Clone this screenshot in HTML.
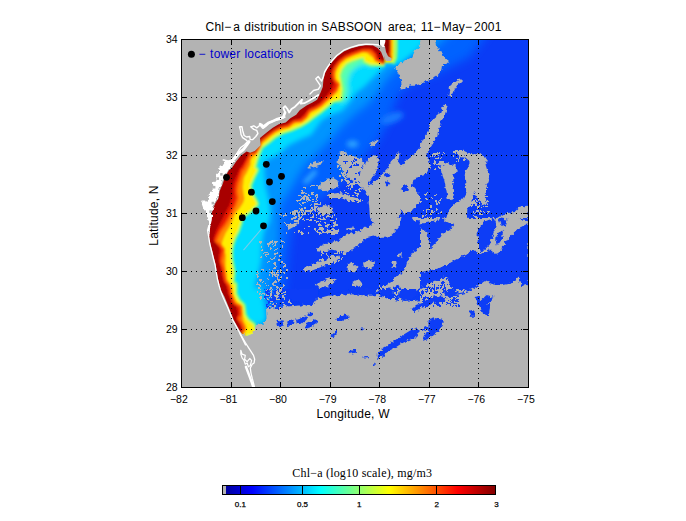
<!DOCTYPE html>
<html><head><meta charset="utf-8"><title>Chl-a distribution</title>
<style>html,body{margin:0;padding:0;background:#fff}svg{display:block}text{font-family:"Liberation Sans",sans-serif}</style>
</head><body>
<svg width="686" height="521" viewBox="0 0 686 521">
<defs>
<clipPath id="plot"><rect x="181" y="39" width="348" height="349"/></clipPath>
<filter id="b2" x="-10%" y="-10%" width="120%" height="120%"><feGaussianBlur stdDeviation="1.1"/></filter>
<filter id="b5" x="-10%" y="-10%" width="120%" height="120%"><feGaussianBlur stdDeviation="5"/></filter>
<filter id="b4" x="-10%" y="-10%" width="120%" height="120%"><feGaussianBlur stdDeviation="4"/></filter>
<filter id="b3" x="-10%" y="-10%" width="120%" height="120%"><feGaussianBlur stdDeviation="2.5"/></filter>
<filter id="rag" x="0" y="0" width="100%" height="100%" filterUnits="userSpaceOnUse" primitiveUnits="userSpaceOnUse"><feTurbulence type="fractalNoise" baseFrequency="0.3" numOctaves="2" seed="4" result="n"/><feDisplacementMap in="SourceGraphic" in2="n" scale="5" xChannelSelector="R" yChannelSelector="G"/></filter>
<filter id="rag2" x="0" y="0" width="100%" height="100%" filterUnits="userSpaceOnUse" primitiveUnits="userSpaceOnUse"><feTurbulence type="fractalNoise" baseFrequency="0.4" numOctaves="2" seed="9" result="n"/><feDisplacementMap in="SourceGraphic" in2="n" scale="3.5" xChannelSelector="R" yChannelSelector="G"/></filter>
<linearGradient id="jet" x1="0" x2="1" y1="0" y2="0">
<stop offset="0" stop-color="#00008f"/>
<stop offset="0.11" stop-color="#0000ff"/>
<stop offset="0.36" stop-color="#00ffff"/>
<stop offset="0.61" stop-color="#ffff00"/>
<stop offset="0.86" stop-color="#ff0000"/>
<stop offset="1" stop-color="#800000"/>
</linearGradient>
</defs>
<rect width="686" height="521" fill="#fff"/>
<g clip-path="url(#plot)">
<rect x="181" y="39" width="348" height="349" fill="#0a3cf6"/>
<g filter="url(#b5)">
<path d="M250.0 380.0 L276.0 324.0 L281.0 305.0 L285.0 285.0 L287.0 265.0 L289.0 245.0 L292.0 228.0 L300.0 215.0 L315.0 203.0 L332.0 190.0 L348.0 174.0 L362.0 160.0 L374.0 146.0 L384.0 130.0 L391.0 114.0 L396.0 100.0 L402.0 90.0 L415.0 82.0 L436.0 74.0 L470.0 57.0 L490.0 30.0 L150.0 20.0 L150.0 380.0Z" fill="#0062ff"/>
</g>
<g filter="url(#b4)">
<path d="M250.0 380.0 L268.0 322.0 L270.0 300.0 L272.0 280.0 L276.0 260.0 L279.0 240.0 L279.0 225.0 L280.0 205.0 L290.0 190.0 L304.0 166.0 L319.0 151.0 L331.0 139.0 L343.0 125.0 L356.0 113.0 L368.0 104.0 L378.0 92.0 L387.0 79.0 L395.0 71.0 L408.0 60.0 L432.0 50.0 L455.0 30.0 L150.0 20.0 L150.0 380.0Z" fill="#0094ff"/>
</g>
<g filter="url(#b3)">
<path d="M250.0 380.0 L253.6 325.8 L256.0 324.6 L263.0 323.5 L266.5 318.8 L265.3 308.3 L263.0 296.7 L260.6 285.0 L255.3 290.0 L255.3 283.6 L257.6 276.6 L260.0 267.3 L261.5 259.0 L261.5 251.0 L262.0 244.0 L263.0 237.0 L264.5 230.0 L269.3 222.0 L270.6 211.8 L269.3 201.6 L265.5 186.3 L264.2 171.0 L266.0 160.0 L277.5 155.0 L289.2 145.1 L300.8 139.3 L311.3 134.7 L316.0 127.7 L321.6 120.3 L329.6 115.5 L342.0 110.7 L350.0 102.0 L356.0 93.0 L364.0 87.0 L371.0 80.0 L378.0 73.0 L384.0 68.0 L385.5 62.0 L385.5 20.0 L150.0 20.0 L150.0 380.0Z" fill="#00dcff"/>
<path d="M305.5 182 L315 172" stroke="#38b4ff" stroke-width="4" stroke-linecap="round" fill="none"/>
<ellipse cx="352.5" cy="144" rx="6" ry="3.5" fill="#2ea4ff"/>
<ellipse cx="392" cy="118" rx="12" ry="5" fill="#1478ff" transform="rotate(-20 392 118)"/>
<path d="M338.0 101.0 L345.0 101.0 L348.0 92.0 L347.5 82.0 L350.0 73.0 L356.0 67.0 L364.0 63.5 L372.0 66.0 L376.0 64.0 L366.0 59.0 L352.0 58.0 L345.0 61.5 L340.0 67.5 L337.5 75.3 L338.5 82.3 L339.5 90.0Z" fill="#58ffb0"/>
<path d="M385.0 30.0 L428.0 30.0 L422.0 45.0 L415.0 52.0 L405.0 60.0 L398.0 65.0 L392.0 64.5 L385.0 64.0Z" fill="#00dcff"/>
</g>
<g filter="url(#b2)">
<path d="M246.6 333.6 L250.1 333.4 L253.6 331.6 L252.5 325.8 L246.6 321.2 L243.1 315.3 L242.0 306.0 L237.3 301.3 L233.8 294.3 L233.8 285.0 L230.8 286.0 L231.4 279.0 L232.0 272.0 L230.8 265.0 L229.7 258.0 L229.7 251.0 L230.8 244.0 L233.1 237.0 L236.6 230.0 L239.0 222.5 L240.1 216.6 L244.8 213.1 L250.6 208.5 L255.3 203.8 L253.0 199.2 L249.5 193.3 L248.3 185.2 L251.8 177.0 L255.3 170.0 L252.5 168.5 L254.8 160.3 L257.1 153.3 L258.0 151.0 L260.0 146.3 L267.0 141.1 L274.0 135.2 L281.0 131.2 L290.3 128.2 L299.7 124.2 L306.6 120.1 L312.5 115.4 L318.3 111.3 L325.3 105.5 L332.3 99.7 L339.2 98.0 L340.3 89.3 L339.2 82.3 L338.0 75.3 L340.3 68.3 L345.0 62.5 L352.0 59.0 L359.0 56.7 L364.8 55.5 L366.0 60.2 L370.6 62.5 L377.6 63.1 L384.6 63.1" fill="none" stroke="#8cff78" stroke-width="7.5" stroke-linejoin="round"/>
<path d="M246.6 333.6 L250.1 333.4 L253.6 331.6 L252.5 325.8 L246.6 321.2 L243.1 315.3 L242.0 306.0 L237.3 301.3 L233.8 294.3 L233.8 285.0 L230.8 286.0 L231.4 279.0 L232.0 272.0 L230.8 265.0 L229.7 258.0 L229.7 251.0 L230.8 244.0 L233.1 237.0 L236.6 230.0 L239.0 222.5 L240.1 216.6 L244.8 213.1 L250.6 208.5 L255.3 203.8 L253.0 199.2 L249.5 193.3 L248.3 185.2 L251.8 177.0 L255.3 170.0 L252.5 168.5 L254.8 160.3 L257.1 153.3 L258.0 151.0 L260.0 146.3 L267.0 141.1 L274.0 135.2 L281.0 131.2 L290.3 128.2 L299.7 124.2 L306.6 120.1 L312.5 115.4 L318.3 111.3 L325.3 105.5 L332.3 99.7 L339.2 98.0 L340.3 89.3 L339.2 82.3 L338.0 75.3 L340.3 68.3 L345.0 62.5 L352.0 59.0 L359.0 56.7 L364.8 55.5 L366.0 60.2 L370.6 62.5 L377.6 63.1 L384.6 63.1" fill="none" stroke="#ffee00" stroke-width="3" stroke-linejoin="round"/>
<path d="M250.0 380.0 L246.6 333.6 L250.1 333.4 L253.6 331.6 L252.5 325.8 L246.6 321.2 L243.1 315.3 L242.0 306.0 L237.3 301.3 L233.8 294.3 L233.8 285.0 L230.8 286.0 L231.4 279.0 L232.0 272.0 L230.8 265.0 L229.7 258.0 L229.7 251.0 L230.8 244.0 L233.1 237.0 L236.6 230.0 L239.0 222.5 L240.1 216.6 L244.8 213.1 L250.6 208.5 L255.3 203.8 L253.0 199.2 L249.5 193.3 L248.3 185.2 L251.8 177.0 L255.3 170.0 L252.5 168.5 L254.8 160.3 L257.1 153.3 L258.0 151.0 L260.0 146.3 L267.0 141.1 L274.0 135.2 L281.0 131.2 L290.3 128.2 L299.7 124.2 L306.6 120.1 L312.5 115.4 L318.3 111.3 L325.3 105.5 L332.3 99.7 L339.2 98.0 L340.3 89.3 L339.2 82.3 L338.0 75.3 L340.3 68.3 L345.0 62.5 L352.0 59.0 L359.0 56.7 L364.8 55.5 L366.0 60.2 L370.6 62.5 L377.6 63.1 L384.6 63.1 L385.5 62.0 L385.5 20.0 L150.0 20.0 L150.0 380.0Z" fill="#ffee00"/>
<path d="M250.0 380.0 L244.1 332.5 L245.8 331.2 L246.3 329.6 L246.8 327.8 L245.9 325.5 L244.9 323.3 L243.7 321.3 L243.5 319.5 L243.4 317.6 L242.6 315.4 L242.0 313.1 L241.1 310.8 L239.7 309.0 L238.4 307.2 L237.4 305.2 L236.7 302.8 L235.4 300.7 L234.2 298.6 L233.1 296.4 L232.5 294.0 L231.6 291.7 L230.9 289.4 L230.0 287.1 L229.2 284.9 L228.8 282.5 L227.9 280.9 L226.9 279.4 L226.8 277.0 L226.7 274.5 L226.4 272.0 L226.1 269.6 L225.7 267.2 L225.6 264.8 L225.7 262.3 L225.8 259.9 L225.9 257.4 L226.0 255.0 L225.2 252.7 L224.4 250.5 L223.4 248.4 L222.3 246.5 L221.6 244.5 L222.3 242.1 L223.0 239.7 L223.9 237.4 L224.9 235.1 L225.9 232.8 L227.3 230.7 L228.6 228.6 L229.9 226.5 L230.9 224.3 L232.0 222.0 L233.0 219.7 L233.8 217.4 L234.6 215.1 L235.9 213.0 L237.4 211.1 L238.9 209.2 L240.3 207.2 L241.6 205.2 L242.9 203.2 L243.8 201.1 L244.4 198.9 L244.2 196.6 L243.7 194.3 L243.4 191.9 L243.1 189.6 L242.9 187.3 L243.1 184.9 L243.4 182.5 L243.6 180.1 L244.2 177.7 L245.1 175.4 L246.5 173.5 L247.6 171.2 L248.7 169.0 L249.8 166.7 L250.9 164.5 L250.7 162.5 L250.9 160.5 L251.8 158.2 L253.5 157.1 L255.0 155.7 L256.1 153.4 L257.2 151.2 L258.1 148.9 L258.9 146.5 L260.0 144.4 L261.5 142.5 L263.5 140.9 L265.4 139.4 L267.4 137.9 L269.4 136.4 L271.4 134.8 L273.4 133.3 L275.4 132.0 L277.6 130.8 L279.9 129.7 L282.2 128.8 L284.5 128.0 L286.9 127.2 L289.0 126.0 L291.2 124.8 L293.4 123.7 L295.8 123.2 L298.2 122.6 L300.4 121.7 L302.4 120.2 L304.4 118.8 L306.1 117.0 L307.8 115.2 L309.5 113.5 L311.7 112.3 L313.8 111.1 L315.9 109.8 L318.0 108.4 L320.1 107.0 L321.9 105.3 L323.8 103.7 L325.7 102.0 L327.6 100.4 L329.4 98.7 L331.2 97.0 L333.0 95.3 L335.1 94.1 L336.8 92.6 L338.1 90.8 L337.8 88.5 L337.1 86.4 L336.4 84.2 L336.1 81.8 L335.7 79.3 L335.5 76.8 L335.8 74.5 L336.2 72.1 L336.8 69.9 L338.0 67.7 L339.2 65.6 L340.7 63.6 L342.4 61.9 L344.2 60.2 L346.2 58.8 L348.5 57.7 L350.7 56.7 L353.0 55.7 L355.4 54.9 L357.7 54.0 L360.1 53.2 L362.5 52.6 L365.0 52.4 L366.9 53.0 L368.5 54.2 L370.3 55.8 L372.3 57.3 L374.1 58.7 L375.5 60.1 L377.4 61.2 L379.8 61.8 L382.2 62.3 L384.6 62.8 L385.5 62.0 L385.5 20.0 L150.0 20.0 L150.0 380.0Z" fill="#ff9000"/>
<path d="M242.0 331.6 L243.1 329.3 L240.8 323.5 L237.3 318.8 L240.2 314.2 L239.7 307.2 L233.8 303.7 L230.3 294.3 L229.7 290.0 L228.5 286.0 L225.0 281.3 L223.8 275.5 L222.7 268.5 L220.3 261.5 L221.5 255.7 L222.7 249.8 L219.2 245.2 L214.5 241.7 L216.8 235.8 L219.7 230.0 L223.8 224.8 L227.3 219.0 L230.8 212.0 L234.3 205.0 L236.6 198.0 L235.5 191.0 L236.6 184.0 L239.0 177.0 L241.3 170.0 L243.1 168.5 L246.6 161.5 L249.0 155.7 L250.1 152.7 L254.8 152.5 L258.5 146.5 L260.0 141.6 L267.0 135.8 L274.0 130.6 L281.0 127.1 L288.0 125.3 L293.8 120.7 L300.8 120.1 L305.5 116.0 L309.0 110.2 L314.8 107.8 L320.6 104.3 L325.3 99.7 L327.5 98.0 L335.7 89.3 L337.4 84.6 L333.3 80.0 L332.2 73.0 L334.5 67.2 L339.2 61.3 L345.0 56.7 L353.1 53.2 L356.6 52.0 L362.5 49.7 L370.6 49.7 L375.3 54.3 L376.5 59.0 L381.1 61.3 L384.6 62.5" fill="none" stroke="#ff5a00" stroke-width="5" stroke-linejoin="round"/>
<path d="M250.0 380.0 L242.0 331.6 L243.1 329.3 L240.8 323.5 L237.3 318.8 L240.2 314.2 L239.7 307.2 L233.8 303.7 L230.3 294.3 L229.7 290.0 L228.5 286.0 L225.0 281.3 L223.8 275.5 L222.7 268.5 L220.3 261.5 L221.5 255.7 L222.7 249.8 L219.2 245.2 L214.5 241.7 L216.8 235.8 L219.7 230.0 L223.8 224.8 L227.3 219.0 L230.8 212.0 L234.3 205.0 L236.6 198.0 L235.5 191.0 L236.6 184.0 L239.0 177.0 L241.3 170.0 L243.1 168.5 L246.6 161.5 L249.0 155.7 L250.1 152.7 L254.8 152.5 L258.5 146.5 L260.0 141.6 L267.0 135.8 L274.0 130.6 L281.0 127.1 L288.0 125.3 L293.8 120.7 L300.8 120.1 L305.5 116.0 L309.0 110.2 L314.8 107.8 L320.6 104.3 L325.3 99.7 L327.5 98.0 L335.7 89.3 L337.4 84.6 L333.3 80.0 L332.2 73.0 L334.5 67.2 L339.2 61.3 L345.0 56.7 L353.1 53.2 L356.6 52.0 L362.5 49.7 L370.6 49.7 L375.3 54.3 L376.5 59.0 L381.1 61.3 L384.6 62.5 L385.5 62.0 L385.5 20.0 L150.0 20.0 L150.0 380.0Z" fill="#e61600"/>
<path d="M250.0 380.0 L241.4 331.3 L241.9 329.1 L241.0 326.8 L240.0 324.5 L238.7 322.3 L237.3 320.3 L236.3 318.2 L237.1 316.0 L237.9 313.8 L237.5 311.4 L237.1 308.9 L236.5 306.6 L234.7 305.1 L232.8 303.6 L231.4 301.7 L230.5 299.3 L229.5 297.0 L228.6 294.7 L227.8 292.4 L227.4 289.9 L226.8 287.5 L226.0 285.1 L224.8 283.0 L223.5 280.8 L222.8 278.5 L222.3 276.0 L221.9 273.6 L221.5 271.1 L221.1 268.6 L220.5 266.2 L219.7 263.8 L219.0 261.4 L218.8 259.0 L219.0 256.6 L219.2 254.1 L219.5 251.7 L219.7 249.2 L218.7 247.1 L217.5 244.9 L216.0 243.0 L214.5 241.3 L213.3 239.4 L214.1 237.1 L214.8 234.7 L215.7 232.4 L216.6 230.1 L217.6 227.8 L218.9 225.7 L220.0 223.6 L221.1 221.4 L222.3 219.2 L223.4 217.0 L224.5 214.8 L225.6 212.5 L226.7 210.3 L227.9 208.1 L229.1 205.9 L230.0 203.6 L230.8 201.2 L231.5 198.8 L232.4 196.5 L232.8 194.1 L232.7 191.6 L232.6 189.2 L232.9 186.7 L233.4 184.3 L234.0 181.9 L234.9 179.6 L235.8 177.3 L237.0 175.2 L237.9 172.9 L238.9 170.6 L239.8 168.3 L241.6 166.5 L242.8 164.4 L244.0 162.2 L245.3 160.1 L246.5 158.0 L247.8 155.9 L249.0 154.2 L250.4 152.7 L252.9 152.4 L255.1 151.7 L256.5 149.6 L258.0 147.6 L259.2 145.5 L259.8 143.1 L260.6 140.9 L262.0 139.1 L263.9 137.5 L265.9 135.9 L267.8 134.3 L269.8 132.8 L271.8 131.3 L273.9 129.9 L276.1 128.7 L278.3 127.5 L280.5 126.4 L282.9 125.7 L285.4 125.1 L287.7 124.3 L289.7 122.8 L291.6 121.2 L293.7 119.9 L296.1 119.5 L298.5 119.0 L300.6 117.9 L302.4 116.1 L304.2 114.4 L305.7 112.5 L307.2 110.5 L308.9 108.8 L311.2 107.8 L313.5 106.8 L315.7 105.6 L317.8 104.3 L319.9 102.9 L321.5 101.1 L323.1 99.2 L324.8 97.4 L326.5 95.6 L328.0 93.6 L329.4 91.7 L330.7 89.7 L332.1 87.7 L333.1 85.5 L333.9 83.1 L333.6 81.0 L332.6 79.0 L331.7 77.0 L331.8 74.6 L331.9 72.2 L332.2 69.9 L333.3 67.7 L334.4 65.5 L335.9 63.5 L337.6 61.6 L339.3 59.8 L341.2 58.2 L343.2 56.7 L345.2 55.2 L347.5 54.2 L349.8 53.2 L352.1 52.3 L354.5 51.4 L356.8 50.7 L359.2 49.9 L361.6 49.1 L364.0 48.6 L366.5 48.6 L369.0 48.6 L371.4 48.8 L373.3 50.4 L375.2 52.1 L376.6 54.1 L377.4 56.4 L378.8 58.3 L380.7 59.7 L382.6 61.0 L384.6 62.2 L385.5 62.0 L385.5 20.0 L150.0 20.0 L150.0 380.0Z" fill="#a80000"/>
<path d="M396.2 30 L396.2 50 L395.6 58 L393 63.5" fill="none" stroke="#9cff60" stroke-width="3"/>
<path d="M385.0 30.0 L394.7 30.0 L394.5 50.0 L394.0 58.0 L392.0 62.8 L385.0 62.8Z" fill="#ffee00"/>
<path d="M385.0 30.0 L392.2 30.0 L392.2 50.0 L392.2 57.0 L391.6 60.0 L385.0 60.0Z" fill="#ff9800"/>
<path d="M385.0 30.0 L390.6 30.0 L390.6 50.0 L390.2 55.0 L392.0 59.0 L385.0 59.0Z" fill="#f01800"/>
<path d="M385.3 30.0 L389.5 30.0 L389.8 45.0 L389.5 49.9 L389.1 54.8 L391.6 58.6 L388.1 57.0 L386.0 52.0 L385.0 47.1 L383.9 45.7 L385.3 42.2Z" fill="#8e0000"/>
</g>
<path d="M243.5 250.2 L262.7 227.5" stroke="#9cc8e4" stroke-width="1.1" stroke-opacity="0.75" fill="none"/>
<g filter="url(#rag)">
<path d="M421.4 39.0 L434.5 39.0 L436.2 45.0 L439.7 50.2 L443.2 55.5 L447.6 59.9 L449.4 63.4 L443.2 64.2 L442.4 69.5 L438.0 74.7 L432.7 79.1 L425.7 81.7 L418.7 84.4 L413.5 86.1 L410.2 85.2 L405.0 88.7 L400.6 89.6 L401.5 83.5 L400.6 78.2 L398.0 73.0 L395.3 68.6 L398.0 64.2 L405.0 60.7 L412.0 57.2 L415.2 50.2 L420.5 45.0ZM461.6 78.2 L458.1 79.1 L453.7 82.6 L449.4 85.2 L450.2 90.5 L449.4 95.7 L451.1 96.6 L453.7 90.5 L457.2 85.2 L461.6 81.7ZM445.9 104.5 L443.2 105.3 L441.5 111.5 L438.0 115.0 L433.6 118.5 L430.1 123.7 L429.2 128.0 L439.7 128.0 L440.6 122.0 L444.1 116.7 L445.9 111.5 L447.1 107.1ZM368.2 157.7 L373.5 155.1 L377.8 156.9 L378.7 163.0 L376.1 171.7 L370.0 180.5 L368.2 185.7 L377.0 180.5 L382.2 173.5 L387.5 168.2 L391.0 161.2 L394.5 157.7 L398.0 150.7 L399.7 154.2 L398.0 161.2 L401.5 166.5 L406.7 159.5 L413.7 154.2 L420.0 147.2 L420.0 177.0 L413.7 178.7 L411.9 185.7 L420.0 194.5 L420.0 201.5 L411.9 210.2 L405.0 213.7 L401.5 210.2 L398.0 217.9 L370.0 217.9 L369.1 205.0 L368.2 198.0 L366.5 192.7 L361.2 187.5 L359.5 178.7 L360.3 171.7 L364.7 164.7ZM339.4 151.6 L345.5 150.7 L347.2 154.2 L352.5 156.0 L357.7 156.9 L361.2 159.5 L364.7 163.0 L361.2 168.2 L358.6 173.5 L360.3 178.7 L357.7 182.2 L352.5 180.5 L347.2 177.0 L343.7 173.5 L342.0 168.2 L337.6 163.0 L338.5 157.7 L341.1 156.0ZM308.7 164.7 L315.7 162.1 L322.7 161.2 L321.0 165.6 L314.0 167.4 L308.7 167.4ZM317.5 185.7 L324.5 180.5 L333.2 177.9 L337.6 180.5 L338.5 185.7 L333.2 189.2 L326.2 191.0 L319.2 189.2ZM326.2 194.5 L340.2 192.7 L350.7 196.2 L356.0 198.0 L352.5 201.5 L342.0 198.0 L329.7 198.0ZM317.5 208.5 L324.5 205.0 L331.5 206.7 L333.2 212.0 L328.0 215.5 L321.0 214.6ZM370.0 143.7 L377.0 139.4 L378.7 142.0 L371.7 146.4ZM339.4 151.6 L345.5 150.7 L346.4 155.1 L341.1 156.0ZM428.7 128.0 L438.4 128.0 L437.5 135.0 L434.0 142.0 L429.6 149.0 L426.1 154.2 L428.7 159.5 L430.5 166.5 L427.0 173.5 L420.0 175.2 L420.0 145.5 L423.5 138.5 L427.0 133.2ZM456.7 151.6 L463.7 150.7 L470.7 154.2 L479.5 154.2 L487.3 157.7 L485.6 164.7 L488.2 173.5 L489.1 180.5 L486.5 187.5 L484.7 196.2 L487.3 203.2 L483.0 205.0 L477.7 198.0 L474.2 191.0 L472.5 198.0 L470.7 205.0 L467.2 210.2 L467.2 217.9 L446.2 217.9 L448.9 210.2 L452.4 205.0 L457.6 201.5 L463.7 198.0 L466.4 192.7 L465.5 184.0 L464.6 175.2 L467.2 168.2 L469.9 161.2 L465.5 157.7 L459.4 156.9ZM440.5 165.6 L446.9 162.8 L455.1 165.6 L457.8 171.0 L453.3 174.7 L453.3 183.8 L454.2 192.9 L452.4 200.2 L447.8 198.4 L446.0 189.2 L444.2 180.1 L441.4 172.8ZM497.0 217.9 L504.0 213.7 L514.5 212.0 L519.7 206.7 L528.4 205.8 L528.4 217.9ZM370.0 217.1 L401.5 217.1 L399.7 225.0 L394.5 232.0 L389.2 237.2 L380.5 238.1 L373.5 235.5 L366.5 237.2 L359.5 244.2 L352.5 249.5 L345.5 253.0 L338.5 251.2 L331.5 249.5 L324.5 252.1 L317.5 251.2 L317.5 247.7 L324.5 244.2 L333.2 242.5 L340.2 239.0 L347.2 234.6 L354.2 232.9 L361.2 229.4 L368.2 226.7 L373.5 223.2ZM303.5 268.7 L310.5 265.2 L319.2 261.7 L326.2 260.0 L333.2 256.5 L340.2 255.6 L338.5 260.0 L329.7 263.5 L321.0 267.0 L312.2 270.5 L305.2 272.2ZM315.7 284.5 L322.7 281.0 L329.7 278.3 L336.7 279.2 L333.2 283.6 L326.2 287.1 L319.2 288.0ZM363.0 262.6 L370.0 260.0 L375.2 261.7 L374.3 266.1 L368.2 268.7 L363.8 267.0ZM346.4 267.9 L350.7 264.4 L354.2 267.0 L357.7 268.7 L356.0 271.3 L349.0 271.3ZM420.0 247.7 L413.7 251.2 L410.2 256.5 L406.7 263.5 L405.0 270.5 L399.7 274.0 L394.5 279.2 L387.5 284.5 L380.5 288.0 L375.2 291.5 L382.2 291.5 L391.0 288.0 L398.0 284.5 L401.5 289.7 L398.0 296.7 L403.2 300.2 L411.9 295.0 L420.0 288.0ZM352.5 282.7 L359.5 280.1 L363.0 284.5 L357.7 287.1 L352.5 285.3ZM391.8 261.7 L396.2 260.0 L397.1 267.0 L392.7 267.9ZM398.0 253.9 L401.5 253.0 L401.5 256.5 L398.0 256.5ZM411.9 218.0 L420.0 218.0 L420.0 221.5 L413.7 220.6ZM232.0 326.0 L239.7 331.5 L243.0 335.0 L247.0 336.0 L251.0 334.5 L254.0 331.0 L256.0 325.0 L263.0 323.5 L266.5 318.8 L266.0 308.0 L300.0 305.5 L307.0 303.7 L317.5 298.5 L328.0 295.8 L340.2 295.0 L352.5 293.2 L359.5 295.0 L370.0 295.8 L377.0 295.0 L384.0 296.7 L394.5 300.2 L405.0 302.0 L420.0 300.2 L420.0 300.0 L420.0 218.0 L530.0 218.0 L530.0 390.0 L240.0 390.0ZM346.7 264.2 L351.9 262.5 L358.9 267.7 L353.7 271.2 L347.6 270.3ZM345.0 227.5 L353.7 226.6 L353.7 229.2 L346.7 230.1ZM287.2 227.5 L292.5 224.0 L297.7 222.2 L297.7 224.9 L292.5 227.5 L288.1 230.1Z" fill="#b3b3b3"/>
<path d="M300 195h1v1h-1zM300 199h1v2h-1zM300 201h1v2h-1zM300 205h3v1h-3zM300 209h2v2h-2zM302 197h2v2h-2zM302 209h2v2h-2zM302 211h1v2h-1zM302 213h2v2h-2zM304 207h2v2h-2zM306 193h3v1h-3zM306 197h3v2h-3zM306 199h1v2h-1zM308 199h2v2h-2zM310 197h2v1h-2zM310 207h3v2h-3zM310 211h3v2h-3zM312 199h2v1h-2zM312 201h2v1h-2zM312 209h3v2h-3zM314 203h3v2h-3zM314 207h3v1h-3zM314 209h2v2h-2zM316 195h2v2h-2zM316 197h1v2h-1zM316 199h1v2h-1zM316 203h2v2h-2zM318 203h3v2h-3zM337 165h2v2h-2zM339 163h1v1h-1zM339 169h1v2h-1zM339 175h2v2h-2zM341 165h2v2h-2zM341 179h2v2h-2zM343 165h3v2h-3zM343 175h2v2h-2zM345 165h1v1h-1zM345 177h2v2h-2zM345 179h1v2h-1zM347 165h2v1h-2zM347 179h2v1h-2zM347 181h3v2h-3zM349 161h3v2h-3zM349 165h2v1h-2zM349 167h1v2h-1zM349 171h2v1h-2zM349 173h2v2h-2zM351 163h2v2h-2zM351 175h2v2h-2zM353 165h2v2h-2zM353 169h1v2h-1zM353 181h2v2h-2zM353 183h1v2h-1zM355 163h1v2h-1zM355 171h2v2h-2zM355 179h2v2h-2zM355 183h3v1h-3zM357 171h2v1h-2zM357 175h2v1h-2zM357 179h3v1h-3zM357 183h3v1h-3zM359 183h3v2h-3zM430 156h2v1h-2zM432 156h1v1h-1zM434 152h2v2h-2zM434 154h2v2h-2zM438 152h2v2h-2zM438 156h1v2h-1zM438 158h2v1h-2zM438 162h2v1h-2zM440 160h2v1h-2zM442 152h1v1h-1zM442 154h2v1h-2zM442 162h3v2h-3zM420 201h1v2h-1zM422 211h2v1h-2zM422 215h2v2h-2zM424 193h3v2h-3zM426 199h3v1h-3zM426 209h2v1h-2zM426 211h1v2h-1zM426 213h2v2h-2zM428 209h2v1h-2zM430 205h2v1h-2zM430 207h2v2h-2zM430 211h3v2h-3zM430 213h1v2h-1zM432 197h1v2h-1zM434 195h2v1h-2zM434 201h2v2h-2zM434 211h1v2h-1zM436 203h2v2h-2zM436 209h3v1h-3zM438 201h2v2h-2zM438 203h2v1h-2zM438 213h1v2h-1zM440 199h2v1h-2zM440 211h2v2h-2zM442 207h1v1h-1zM453 151h3v2h-3zM453 155h2v2h-2zM453 157h2v1h-2zM455 151h2v2h-2zM455 161h2v1h-2zM457 151h3v2h-3zM457 153h2v2h-2zM457 159h2v2h-2zM459 157h1v2h-1zM461 153h2v2h-2zM463 159h2v2h-2zM465 159h1v2h-1zM467 157h3v2h-3zM469 151h1v1h-1zM469 153h1v2h-1zM469 161h1v1h-1zM432 155h1v2h-1zM434 153h2v2h-2zM434 157h2v1h-2zM434 161h2v2h-2zM434 163h2v2h-2zM434 167h2v2h-2zM436 153h3v2h-3zM436 157h2v2h-2zM436 163h2v2h-2zM438 163h2v2h-2zM438 167h3v1h-3zM440 157h2v2h-2zM440 161h3v2h-3zM440 163h2v2h-2zM471 202h3v1h-3zM471 204h2v2h-2zM471 206h1v1h-1zM473 188h2v2h-2zM473 194h3v2h-3zM473 200h1v2h-1zM473 202h3v1h-3zM473 212h3v1h-3zM473 214h3v1h-3zM475 188h2v2h-2zM475 192h3v1h-3zM475 198h1v2h-1zM475 200h1v2h-1zM475 202h1v2h-1zM475 204h2v2h-2zM475 210h2v2h-2zM475 212h1v1h-1zM475 216h3v2h-3zM477 192h3v1h-3zM477 194h2v2h-2zM477 200h2v2h-2zM477 206h2v2h-2zM477 210h1v2h-1zM477 212h2v1h-2zM479 190h1v1h-1zM479 192h3v2h-3zM479 196h2v2h-2zM479 202h1v2h-1zM479 204h2v2h-2zM479 206h2v1h-2zM479 210h2v1h-2zM479 212h2v2h-2zM479 214h2v1h-2zM481 188h1v2h-1zM481 192h1v2h-1zM481 196h3v2h-3zM481 198h2v1h-2zM481 200h2v2h-2zM481 214h1v1h-1zM483 190h1v2h-1zM483 192h1v1h-1zM483 196h2v1h-2zM483 206h1v2h-1zM483 210h1v2h-1zM485 186h1v2h-1zM485 188h2v2h-2zM485 196h2v2h-2zM485 206h3v1h-3zM485 212h1v1h-1zM487 192h1v1h-1zM487 200h2v2h-2zM487 204h2v1h-2zM487 210h3v1h-3zM487 212h1v2h-1zM314 220h3v1h-3zM314 228h2v2h-2zM316 222h2v1h-2zM316 230h2v2h-2zM318 220h1v2h-1zM318 224h3v2h-3zM318 232h2v2h-2zM320 226h1v2h-1zM322 230h2v2h-2zM324 226h2v1h-2zM324 230h1v1h-1zM326 226h1v2h-1zM326 232h3v2h-3zM328 224h2v1h-2zM328 230h2v2h-2zM328 232h3v1h-3zM330 220h3v1h-3zM330 226h2v1h-2zM330 228h3v1h-3zM330 232h2v2h-2zM332 220h2v1h-2zM332 224h2v2h-2zM332 232h3v2h-3zM334 222h2v2h-2zM334 224h2v1h-2zM334 228h1v2h-1zM334 232h2v2h-2zM319 257h1v1h-1zM319 259h3v2h-3zM321 251h2v2h-2zM321 255h1v2h-1zM321 259h2v2h-2zM321 261h2v2h-2zM321 263h2v2h-2zM323 253h1v1h-1zM323 259h2v2h-2zM325 251h1v1h-1zM327 253h1v1h-1zM327 255h1v2h-1zM327 257h2v1h-2zM327 261h2v1h-2zM329 263h1v2h-1zM331 255h3v2h-3zM331 259h3v1h-3zM331 261h1v2h-1zM331 263h1v1h-1zM333 261h3v2h-3zM335 253h2v1h-2zM335 257h2v1h-2zM335 261h2v2h-2zM337 251h3v2h-3zM339 257h1v2h-1zM339 261h2v1h-2zM341 255h1v1h-1zM341 257h2v2h-2zM343 253h2v2h-2zM379 286h1v2h-1zM379 288h2v1h-2zM381 286h3v1h-3zM381 288h2v1h-2zM381 290h1v2h-1zM383 284h2v2h-2zM383 286h3v2h-3zM383 288h2v2h-2zM383 290h2v2h-2zM385 286h1v2h-1zM385 288h1v2h-1zM385 292h2v2h-2zM387 282h2v1h-2zM387 288h1v1h-1zM387 290h1v2h-1zM389 290h2v2h-2zM389 292h2v1h-2zM391 286h2v2h-2zM391 288h3v2h-3zM391 290h1v2h-1zM391 292h2v2h-2zM391 298h2v2h-2zM393 280h1v2h-1zM393 292h3v2h-3zM393 296h2v1h-2zM393 298h2v2h-2zM395 280h2v2h-2zM395 294h2v2h-2zM395 298h1v1h-1zM397 278h3v1h-3zM397 288h1v2h-1zM397 290h3v2h-3zM397 292h3v2h-3zM399 278h3v1h-3zM399 292h2v2h-2zM399 294h1v2h-1zM399 298h1v2h-1zM399 300h3v2h-3zM401 278h3v2h-3zM401 290h2v1h-2zM401 292h3v1h-3zM401 294h2v1h-2zM401 300h2v1h-2zM403 280h3v2h-3zM403 282h2v2h-2zM403 284h3v1h-3zM403 288h1v2h-1zM403 292h1v2h-1zM403 294h3v1h-3zM403 296h3v2h-3zM405 280h2v2h-2zM405 294h1v2h-1zM405 296h2v1h-2zM405 298h3v2h-3zM407 290h3v2h-3zM407 292h3v2h-3zM407 294h1v2h-1zM409 280h2v2h-2zM409 290h2v2h-2zM409 292h2v1h-2zM409 296h1v2h-1zM411 282h1v2h-1zM411 284h1v2h-1zM411 286h2v1h-2zM411 290h2v1h-2zM413 284h1v2h-1zM413 292h3v2h-3zM413 294h1v2h-1zM415 292h1v2h-1zM257 253h1v1h-1zM257 271h2v2h-2zM257 275h1v2h-1zM257 283h3v2h-3zM257 287h2v2h-2zM257 291h1v2h-1zM259 241h3v2h-3zM259 279h3v2h-3zM259 285h1v1h-1zM259 293h3v2h-3zM259 295h1v1h-1zM259 297h3v2h-3zM261 241h2v1h-2zM261 245h1v2h-1zM261 249h2v2h-2zM261 255h1v2h-1zM261 257h1v2h-1zM261 261h1v2h-1zM261 269h3v2h-3zM261 281h3v1h-3zM261 289h1v1h-1zM261 291h1v1h-1zM263 251h1v2h-1zM263 267h1v2h-1zM263 293h1v2h-1zM263 297h3v2h-3zM265 251h2v2h-2zM265 255h2v2h-2zM265 281h1v2h-1zM267 243h3v2h-3zM267 245h2v2h-2zM267 253h2v2h-2zM267 261h2v1h-2zM267 277h2v1h-2zM267 279h2v2h-2zM269 241h2v2h-2zM269 243h2v2h-2zM269 247h2v2h-2zM269 269h2v1h-2zM269 273h1v2h-1zM269 293h2v2h-2zM269 297h3v1h-3zM271 241h2v2h-2zM271 245h2v2h-2zM271 247h1v1h-1zM271 259h2v1h-2zM271 271h2v2h-2zM271 275h3v2h-3zM271 277h2v1h-2zM271 289h2v1h-2zM271 297h3v1h-3zM273 243h1v2h-1zM273 251h2v1h-2zM273 257h3v2h-3zM273 263h3v2h-3zM273 267h2v2h-2zM273 273h3v2h-3zM273 275h1v2h-1zM273 281h3v2h-3zM273 283h2v2h-2zM273 297h2v1h-2zM275 241h2v2h-2zM275 243h1v2h-1zM275 249h3v1h-3zM275 253h2v2h-2zM275 259h1v1h-1zM275 267h2v2h-2zM275 273h2v1h-2zM275 275h3v2h-3zM275 289h3v2h-3zM275 291h2v1h-2zM275 293h2v1h-2zM275 295h2v2h-2zM275 299h3v2h-3zM277 241h2v2h-2zM277 259h3v2h-3zM277 267h1v1h-1zM277 271h2v2h-2zM277 277h2v2h-2zM277 279h3v2h-3zM277 287h2v1h-2zM277 297h1v2h-1zM279 255h3v2h-3zM279 287h2v2h-2zM281 241h3v1h-3zM281 245h2v2h-2zM281 261h2v2h-2zM281 269h1v2h-1zM281 271h1v2h-1zM281 275h1v2h-1zM281 279h1v2h-1zM281 287h2v2h-2zM281 289h2v2h-2zM283 263h2v1h-2zM283 265h3v2h-3zM283 271h2v2h-2zM283 285h1v2h-1zM283 291h3v2h-3zM285 269h2v2h-2zM285 277h3v2h-3zM285 285h1v1h-1zM285 291h3v2h-3zM285 293h2v2h-2zM280 214h2v1h-2zM282 216h2v2h-2zM284 214h2v2h-2zM284 222h2v2h-2zM286 224h2v2h-2zM286 232h2v2h-2zM288 224h2v2h-2zM288 226h1v2h-1zM290 212h1v2h-1zM290 222h1v2h-1zM290 224h2v2h-2zM292 212h2v2h-2zM292 216h1v1h-1zM292 218h2v2h-2zM294 210h2v2h-2zM294 214h1v2h-1zM294 216h2v2h-2zM294 220h2v2h-2zM294 232h2v2h-2zM296 210h3v2h-3zM296 220h3v2h-3zM298 212h2v2h-2zM298 214h2v2h-2zM298 218h3v2h-3zM298 222h1v2h-1zM298 230h2v2h-2zM300 210h1v2h-1zM300 216h2v2h-2zM300 232h3v2h-3zM302 218h3v2h-3zM302 220h2v2h-2zM302 232h1v2h-1zM304 228h2v1h-2zM306 210h2v2h-2zM306 214h2v1h-2zM306 218h3v2h-3zM308 210h2v2h-2zM308 218h3v1h-3zM308 226h2v1h-2zM308 232h1v2h-1zM310 210h2v2h-2zM310 212h2v1h-2zM310 216h2v2h-2zM310 220h2v2h-2zM312 210h2v1h-2zM312 222h2v1h-2zM316 214h2v2h-2zM316 218h2v1h-2zM316 230h2v2h-2zM318 210h2v1h-2zM318 212h3v2h-3zM318 218h3v1h-3zM318 228h2v2h-2zM318 232h3v1h-3zM320 212h3v2h-3zM320 216h2v1h-2zM320 220h1v2h-1zM320 224h2v2h-2zM320 228h3v2h-3zM322 212h3v2h-3zM322 214h2v2h-2zM322 218h3v2h-3zM322 228h2v2h-2zM324 214h1v1h-1zM324 222h2v1h-2zM324 232h2v2h-2zM326 212h2v2h-2zM326 216h3v1h-3zM326 224h2v2h-2zM326 228h2v1h-2zM326 230h3v1h-3zM328 214h2v1h-2zM328 216h3v1h-3zM330 212h2v1h-2zM330 220h1v2h-1zM332 216h2v2h-2zM332 228h2v2h-2zM332 232h2v1h-2zM334 214h2v2h-2zM334 226h2v1h-2zM334 230h2v2h-2zM334 232h2v2h-2zM336 218h1v2h-1zM336 224h1v2h-1zM336 230h3v2h-3zM336 232h2v2h-2zM294 212h2v2h-2zM294 214h2v1h-2zM296 200h2v2h-2zM298 194h2v2h-2zM298 200h2v2h-2zM298 208h2v1h-2zM298 216h2v2h-2zM300 190h3v1h-3zM300 196h2v1h-2zM300 198h2v2h-2zM300 216h2v2h-2zM302 192h2v2h-2zM302 202h3v2h-3zM302 216h1v1h-1zM304 186h2v2h-2zM304 196h3v2h-3zM304 210h3v2h-3zM304 212h2v2h-2zM306 190h1v1h-1zM308 194h2v2h-2zM308 210h1v2h-1zM310 186h1v1h-1zM310 204h2v2h-2zM312 184h3v2h-3zM312 192h2v2h-2zM312 210h1v1h-1zM312 214h2v2h-2zM312 216h2v2h-2zM314 206h3v1h-3zM314 208h2v2h-2zM316 184h2v2h-2zM316 196h1v1h-1zM316 214h2v1h-2zM338 156h3v1h-3zM340 166h2v1h-2zM340 168h3v1h-3zM342 164h1v1h-1zM342 168h2v2h-2zM342 172h2v2h-2zM342 174h2v2h-2zM344 162h2v2h-2zM344 170h1v1h-1zM344 180h3v2h-3zM344 190h1v2h-1zM344 194h2v1h-2zM346 160h3v1h-3zM346 174h2v2h-2zM346 176h1v2h-1zM346 180h2v2h-2zM346 186h1v1h-1zM346 192h3v1h-3zM346 196h2v2h-2zM346 198h1v1h-1zM348 156h2v1h-2zM348 182h1v1h-1zM348 184h2v2h-2zM348 188h1v1h-1zM348 196h3v1h-3zM348 200h2v2h-2zM350 170h2v1h-2zM350 174h2v1h-2zM350 176h1v1h-1zM350 178h1v2h-1zM350 184h2v2h-2zM350 186h3v2h-3zM350 188h2v2h-2zM350 196h3v2h-3zM352 156h3v2h-3zM352 164h2v2h-2zM352 170h2v2h-2zM352 172h1v2h-1zM352 174h2v2h-2zM352 184h3v2h-3zM352 200h2v2h-2zM354 160h2v2h-2zM354 164h3v2h-3zM354 174h2v2h-2zM354 176h2v2h-2zM354 178h2v1h-2zM354 192h3v2h-3zM354 198h2v2h-2zM354 200h1v2h-1zM356 164h3v2h-3zM356 178h2v2h-2zM356 190h2v1h-2zM356 194h2v2h-2zM356 198h2v2h-2zM356 200h3v1h-3zM358 160h2v2h-2zM358 164h2v1h-2zM358 170h2v2h-2zM358 176h2v2h-2zM358 180h2v2h-2zM358 184h2v2h-2zM358 188h3v2h-3zM358 200h3v2h-3zM360 162h1v2h-1zM360 166h1v2h-1zM360 168h2v2h-2zM360 174h2v2h-2zM360 178h2v1h-2zM360 182h3v1h-3zM360 186h3v1h-3zM360 190h2v2h-2zM360 200h3v1h-3zM266 285h2v1h-2zM266 289h2v2h-2zM266 291h2v2h-2zM266 293h2v2h-2zM266 295h3v2h-3zM266 297h2v1h-2zM266 305h2v1h-2zM266 307h2v2h-2zM268 289h2v1h-2zM268 299h1v2h-1zM268 305h2v2h-2zM268 307h2v2h-2zM270 287h2v1h-2zM270 289h1v1h-1zM270 291h1v2h-1zM270 295h2v2h-2zM270 297h2v1h-2zM270 301h2v2h-2zM270 303h1v1h-1zM272 285h3v2h-3zM272 293h2v2h-2zM272 295h2v2h-2zM272 303h2v2h-2zM272 307h2v2h-2zM272 311h2v2h-2zM274 285h1v1h-1zM274 295h2v1h-2zM274 299h1v2h-1zM274 303h3v1h-3zM274 305h2v2h-2zM274 311h2v2h-2zM276 285h2v2h-2zM276 289h1v1h-1zM276 291h2v2h-2zM276 293h2v2h-2zM276 295h3v1h-3zM276 297h2v1h-2zM276 299h2v1h-2zM276 307h2v2h-2zM276 309h1v1h-1zM276 311h1v2h-1zM278 287h2v1h-2zM278 289h2v2h-2zM278 291h1v2h-1zM278 293h3v2h-3zM278 295h1v1h-1zM278 299h3v2h-3zM278 303h3v1h-3zM278 305h1v2h-1zM278 307h2v2h-2zM278 311h2v1h-2zM280 289h1v1h-1zM280 291h1v2h-1zM280 297h2v1h-2zM280 301h2v1h-2zM280 307h1v1h-1zM280 311h2v2h-2zM282 293h2v1h-2zM282 295h2v2h-2zM282 297h3v2h-3zM282 301h3v2h-3zM282 303h2v1h-2zM282 309h2v1h-2zM282 311h2v2h-2zM284 285h1v1h-1zM284 301h1v2h-1zM284 305h2v2h-2zM284 307h3v2h-3zM286 289h2v1h-2zM288 293h1v1h-1zM288 299h2v1h-2zM288 301h3v2h-3z" fill="#b3b3b3"/>
<path d="M384.0 173.8 L389.2 173.1 L389.6 177.0 L384.3 177.3ZM384.0 182.6 L388.3 181.3 L391.0 184.8 L386.6 186.6ZM401.5 186.6 L406.7 184.8 L409.3 188.3 L405.0 191.3 L401.1 190.1ZM425.2 223.2 L434.0 221.5 L442.7 218.0 L446.2 221.5 L453.2 225.0 L449.7 230.2 L442.7 233.7 L437.5 240.7 L430.5 247.7 L428.7 239.0 L427.0 232.0 L420.0 228.5 L420.0 223.2ZM528.4 223.2 L518.0 228.5 L507.5 239.0 L502.2 247.7 L497.0 254.7 L490.0 249.5 L481.2 254.7 L472.5 249.5 L465.5 254.7 L455.0 260.0 L446.2 265.2 L434.0 269.6 L420.0 272.2 L420.0 288.0 L427.0 284.5 L437.5 279.2 L446.2 275.7 L451.5 288.0 L458.5 293.2 L467.2 291.5 L477.7 286.2 L484.7 281.0 L493.5 284.5 L502.2 285.3 L511.0 283.6 L518.0 277.5 L521.5 286.2 L528.4 284.5ZM477.7 228.5 L484.7 221.5 L493.5 218.0 L497.0 225.0 L493.5 233.7 L490.0 244.2 L481.2 253.0 L477.7 242.5ZM498.7 232.0 L503.1 230.2 L502.2 239.0 L497.0 246.0 L495.2 239.0ZM498.7 218.0 L507.5 219.7 L505.7 226.7 L500.5 225.0ZM476.0 296.7 L481.2 300.2 L486.5 295.0 L493.5 296.7 L490.0 302.0 L484.7 305.5 L477.7 303.7ZM519.7 218.0 L528.4 218.0 L528.4 221.5 L523.2 220.6ZM287.2 289.1 L318.7 289.1 L318.7 297.0 L313.5 304.0 L306.5 305.7 L299.5 302.2 L292.5 300.5 L287.2 298.7ZM277.6 319.7 L282.0 320.6 L283.7 325.0 L280.2 327.6 L277.6 325.0ZM287.2 321.5 L294.2 319.7 L292.5 325.0 L288.1 325.9ZM296.0 319.7 L306.5 316.2 L307.3 318.9 L301.2 324.1 L296.8 324.1ZM308.2 312.7 L312.6 312.7 L311.7 316.2 L309.1 316.2ZM305.6 323.2 L315.2 318.9 L317.0 323.2 L310.0 327.6 L305.6 328.5ZM336.2 318.0 L345.0 314.5 L350.2 317.1 L343.2 320.6 L337.1 321.5ZM331.0 335.5 L337.1 330.2 L338.0 332.0 L332.7 337.2ZM348.4 351.2 L355.4 349.5 L357.2 352.1 L350.2 353.8ZM338.0 291.7 L351.9 290.0 L351.9 292.6 L341.5 293.5ZM360.0 289.1 L374.0 289.1 L373.1 293.5 L367.0 295.2 L360.0 294.4ZM379.2 289.1 L391.5 289.1 L393.2 293.5 L388.0 296.1 L381.0 293.5ZM400.2 289.1 L416.0 289.1 L417.7 295.2 L410.7 298.7 L403.7 300.5 L398.5 297.0ZM411.6 309.2 L416.0 304.9 L423.0 302.2 L428.2 298.7 L435.2 296.1 L444.0 297.0 L445.7 300.5 L438.7 302.2 L431.7 303.1 L424.7 306.6 L419.5 309.2 L414.2 311.9ZM444.0 293.5 L451.0 290.0 L465.0 290.0 L468.4 292.6 L458.0 294.4 L447.5 297.0ZM474.6 297.0 L480.0 296.1 L480.0 304.0 L476.3 300.5ZM469.3 312.7 L472.8 311.0 L473.7 316.2 L470.2 317.1ZM429.1 319.7 L435.2 318.0 L442.2 319.7 L443.1 325.0 L438.7 330.2 L433.5 334.6 L428.2 339.0 L423.0 340.7 L425.6 333.7 L429.1 327.6 L428.2 323.2ZM420.3 329.4 L428.2 325.9 L429.1 327.6 L422.1 332.0ZM376.6 354.7 L382.7 348.6 L389.7 344.2 L396.7 339.0 L403.7 334.6 L410.7 330.2 L417.7 327.6 L418.6 332.0 L416.0 337.2 L409.0 339.9 L402.0 343.3 L395.0 347.7 L388.0 351.2 L381.9 357.3 L377.5 359.1ZM363.5 356.5 L367.9 356.1 L367.9 358.2 L363.8 358.6ZM372.2 364.3 L374.9 363.8 L374.9 365.6 L372.2 365.9ZM361.7 328.5 L363.5 328.5 L363.5 330.2 L361.7 330.2ZM478.7 304.0 L490.2 304.0 L489.0 315.5 L481.3 313.0ZM469.8 311.6 L474.9 311.6 L474.9 316.7 L469.8 316.7Z" fill="#0a3cf6"/>
<path d="M344 153h2v2h-2zM344 161h3v2h-3zM344 163h1v2h-1zM346 161h2v1h-2zM346 171h1v2h-1zM350 161h1v1h-1zM350 165h2v2h-2zM352 161h2v2h-2zM354 159h3v2h-3zM354 165h1v2h-1zM354 173h3v1h-3zM354 179h2v1h-2zM356 163h2v2h-2zM358 167h3v1h-3zM358 173h1v1h-1zM420 275h3v2h-3zM420 283h2v2h-2zM420 295h2v2h-2zM420 301h1v2h-1zM420 305h2v2h-2zM422 273h2v1h-2zM422 277h3v2h-3zM422 279h2v1h-2zM422 291h2v2h-2zM422 293h2v2h-2zM422 299h3v2h-3zM422 303h2v2h-2zM424 273h1v2h-1zM424 283h2v1h-2zM424 285h2v2h-2zM424 287h2v1h-2zM424 297h3v2h-3zM426 277h2v2h-2zM426 283h1v2h-1zM426 287h2v1h-2zM426 289h2v2h-2zM426 291h1v2h-1zM426 297h3v1h-3zM426 301h2v2h-2zM426 305h2v2h-2zM428 277h2v1h-2zM428 281h2v1h-2zM428 285h1v2h-1zM428 287h3v2h-3zM428 297h2v2h-2zM428 299h2v1h-2zM430 277h2v1h-2zM430 281h2v1h-2zM430 289h2v2h-2zM430 291h2v2h-2zM430 295h1v1h-1zM430 297h3v1h-3zM432 277h2v2h-2zM432 279h2v2h-2zM432 281h1v2h-1zM432 285h1v1h-1zM432 287h3v2h-3zM432 299h1v2h-1zM432 305h2v2h-2zM434 271h2v2h-2zM434 273h3v2h-3zM434 277h3v1h-3zM434 279h1v1h-1zM434 285h1v2h-1zM434 289h1v2h-1zM434 291h3v2h-3zM434 297h2v2h-2zM434 299h1v1h-1zM434 303h2v2h-2zM436 277h1v2h-1zM436 279h2v2h-2zM436 287h3v2h-3zM436 289h2v1h-2zM436 291h2v2h-2zM436 297h2v1h-2zM436 299h1v2h-1zM436 301h2v2h-2zM436 303h3v2h-3zM436 305h3v1h-3zM438 277h2v2h-2zM438 279h2v1h-2zM438 285h1v1h-1zM438 301h1v2h-1zM438 305h3v2h-3zM440 269h2v1h-2zM440 271h3v1h-3zM440 273h2v2h-2zM440 277h1v2h-1zM440 283h2v1h-2zM440 285h2v2h-2zM440 287h2v1h-2zM440 293h2v1h-2zM440 295h1v1h-1zM440 301h3v2h-3zM442 271h1v1h-1zM442 277h2v2h-2zM442 281h2v2h-2zM442 283h2v2h-2zM442 289h3v1h-3zM442 291h2v2h-2zM442 303h2v1h-2zM444 269h2v2h-2zM444 275h2v2h-2zM444 281h2v2h-2zM444 285h1v2h-1zM444 287h1v2h-1zM444 291h3v2h-3zM444 297h2v1h-2zM444 299h1v2h-1zM444 301h1v1h-1zM446 269h2v2h-2zM446 271h2v1h-2zM446 273h2v2h-2zM446 275h2v2h-2zM446 277h1v2h-1zM446 279h1v1h-1zM446 285h1v1h-1zM446 303h3v2h-3zM448 269h1v2h-1zM448 271h2v1h-2zM448 273h2v1h-2zM448 281h1v1h-1zM448 283h1v1h-1zM448 289h2v1h-2zM448 291h3v1h-3zM448 295h2v2h-2zM448 297h2v1h-2zM448 299h1v2h-1zM448 303h2v2h-2zM450 269h2v2h-2zM450 271h2v1h-2zM450 275h2v1h-2zM450 277h3v1h-3zM450 279h2v1h-2zM450 285h3v2h-3zM450 289h3v2h-3zM450 291h1v2h-1zM450 295h3v2h-3zM450 299h1v2h-1zM450 303h2v2h-2zM452 269h1v2h-1zM452 271h3v1h-3zM452 277h2v2h-2zM452 289h3v2h-3zM452 291h2v2h-2zM452 295h1v2h-1zM452 297h3v2h-3zM452 299h3v2h-3zM452 301h2v2h-2zM452 305h1v2h-1zM454 273h1v2h-1zM454 279h3v2h-3zM454 285h3v2h-3zM454 291h2v2h-2zM454 293h2v2h-2zM454 297h2v1h-2zM454 303h2v1h-2zM454 305h2v1h-2zM456 279h2v2h-2zM456 281h1v2h-1zM456 283h2v1h-2zM456 285h3v1h-3zM456 287h2v2h-2zM456 295h2v1h-2zM456 299h3v2h-3zM456 301h2v1h-2zM456 305h1v2h-1zM458 301h2v1h-2zM458 305h2v2h-2zM264 289h3v1h-3zM264 291h1v2h-1zM264 295h2v2h-2zM264 297h2v1h-2zM266 289h3v1h-3zM266 291h3v2h-3zM266 293h2v1h-2zM266 297h3v1h-3zM266 299h1v1h-1zM266 303h2v1h-2zM266 305h3v2h-3zM268 291h1v2h-1zM268 293h2v2h-2zM268 297h1v2h-1zM268 301h2v2h-2zM268 307h2v2h-2zM270 293h3v1h-3zM270 299h3v2h-3zM272 291h2v1h-2zM272 295h2v2h-2zM272 297h2v2h-2zM272 299h2v2h-2zM272 305h2v2h-2zM274 289h2v1h-2zM274 291h2v2h-2zM274 297h3v2h-3zM274 299h2v2h-2zM274 303h2v2h-2zM276 293h1v2h-1zM276 307h2v2h-2zM278 289h1v2h-1zM278 291h1v1h-1zM278 295h3v2h-3zM278 297h1v1h-1zM278 303h2v1h-2zM278 305h2v2h-2zM280 291h1v1h-1zM280 293h1v1h-1zM280 295h2v1h-2zM280 297h2v2h-2zM280 299h3v2h-3zM280 301h1v2h-1zM280 303h1v1h-1zM282 289h2v2h-2zM282 291h2v1h-2zM282 303h2v2h-2zM282 305h2v1h-2zM284 289h2v1h-2zM284 293h3v1h-3zM284 299h3v1h-3zM284 301h2v1h-2zM286 289h2v2h-2zM286 291h2v2h-2zM286 293h2v2h-2zM286 295h2v1h-2zM288 291h2v2h-2zM288 295h1v1h-1zM288 297h2v2h-2z" fill="#0a3cf6"/>
</g>
<path d="M245.5 345.0 L250.0 360.0 L250.0 395.0 L170.0 395.0 L170.0 30.0 L384.0 30.0 L384.6 61.3 L383.5 57.8 L381.1 52.0 L377.6 47.9 L373.0 45.6 L366.0 45.2 L359.0 46.2 L350.8 48.5 L343.8 51.4 L336.8 56.7 L331.6 62.5 L327.5 68.3 L324.6 74.2 L323.4 80.0 L322.8 87.0 L320.5 92.8 L317.1 99.7 L312.5 102.6 L306.6 105.5 L299.7 110.2 L296.2 114.8 L290.3 118.3 L285.7 122.4 L278.7 124.2 L272.8 127.7 L267.0 132.3 L260.0 138.1 L260.6 145.2 L254.8 151.0 L250.1 152.7 L246.6 151.6 L240.8 155.7 L236.2 161.5 L231.5 168.5 L229.1 170.0 L225.0 177.0 L222.7 184.0 L219.7 191.0 L218.6 198.0 L215.1 203.8 L212.7 209.7 L211.6 214.3 L211.6 219.0 L210.4 224.8 L209.8 230.0 L209.2 237.0 L210.4 244.0 L212.2 251.0 L213.9 258.0 L215.7 265.0 L216.8 272.0 L218.0 279.0 L219.7 286.0 L220.9 290.0 L224.5 296.7 L229.2 308.3 L233.8 320.0 L239.7 330.5 L242.0 334.0 L245.5 345.0Z" fill="#b3b3b3"/>
<path d="M382.5 46.5 L385.0 46.5 L386.0 52.0 L388.1 56.2 L391.6 58.3 L391.2 61.1 L386.0 61.1 L384.6 58.3 L383.5 53.4Z" fill="#b3b3b3"/>
<path d="M207.5 230.0 L208.7 237.0 L209.8 244.0 L211.6 251.0 L213.3 258.0 L215.1 265.0 L216.2 272.0 L217.4 279.0 L219.2 286.0 L220.3 289.9 L221.0 292.0 L223.3 297.8 L228.0 308.3 L232.7 320.0 L238.5 330.5 L245.5 344.9" fill="none" stroke="#fff" stroke-width="1.3" stroke-linejoin="round" stroke-linecap="round"/>
<path d="M223.2 160.0 L228.3 161.0 L232.3 160.0 L235.4 155.9 L238.5 150.8 L240.5 147.8 L244.6 144.7 L247.7 141.6 L245.6 139.6 L242.6 137.6 L241.0 134.5 L240.5 130.4 L239.5 126.8 L242.0 126.8 L242.6 130.4 L244.1 135.5 L246.6 137.0 L249.7 136.5 L250.2 139.6 L252.8 139.6 L255.8 136.5 L257.9 133.5 L256.8 130.4 L253.8 129.4 L250.7 126.8 L253.8 125.8 L256.8 127.9 L259.9 125.3 L261.9 124.3 L260.9 126.3 L263.0 128.4 L266.0 126.3 L270.1 122.2 L272.1 121.2 L276.2 120.2 L280.3 119.2 L285.0 117.1" fill="none" stroke="#fff" stroke-width="1.4" stroke-linejoin="round" stroke-linecap="round"/>
<path d="M260.0 124.2 L263.5 126.5 L268.2 123.0 L272.8 121.2 L277.5 118.9 L283.3 117.2 L285.1 112.5" fill="none" stroke="#fff" stroke-width="2.6" stroke-linejoin="round" stroke-linecap="round"/>
<path d="M285.1 112.5 L283.3 107.8 L285.1 106.1 L287.4 109.0 L289.2 112.5 L291.5 109.0 L295.0 106.7 L299.7 102.0 L302.0 99.7 L300.8 103.7 L304.3 103.2 L309.0 100.8 L314.8 97.3 L318.3 95.0" fill="none" stroke="#fff" stroke-width="1.8" stroke-linejoin="round" stroke-linecap="round"/>
<path d="M310.0 94.0 L313.5 90.5 L318.2 89.3 L320.5 85.8 L318.2 82.3 L315.8 78.8 L318.2 76.5 L321.7 81.1 L323.4 76.5 L324.6 71.8 L327.5 67.2 L331.6 61.3 L336.8 55.5 L343.8 50.2 L350.8 47.3 L359.0 45.0 L366.0 44.1 L373.0 44.4 L378.8 45.0" fill="none" stroke="#fff" stroke-width="1.4" stroke-linejoin="round" stroke-linecap="round"/>
<path d="M240.2 333.9 L245.3 342.7 L250.3 350.3 L253.5 355.4 L254.7 359.2 L254.1 363.0 L252.2 364.2 L250.3 368.0 L251.0 373.1 L252.2 378.2 L253.5 383.2 L254.7 388.0" fill="none" stroke="#fff" stroke-width="1.3" stroke-linejoin="round" stroke-linecap="round"/>
<path d="M240.8 350.3 L242.1 354.1 L245.3 355.4 L244.6 359.2 L247.2 361.7 L249.7 358.5 L251.6 360.4 L250.3 365.5 L248.4 366.8 L247.2 363.0 L245.3 364.2 L244.0 360.4 L242.1 357.9 L240.8 354.1 L240.8 350.3" fill="none" stroke="#fff" stroke-width="1.2" stroke-linejoin="round" stroke-linecap="round"/>
<path d="M245.9 366.8 L247.8 371.8 L249.7 376.9 L251.6 382.0 L253.5 388.0" fill="none" stroke="#fff" stroke-width="2.4" stroke-linejoin="round" stroke-linecap="round"/>
<path d="M214.2 188.3 L217.5 181.3 L222.2 174.3 L225.7 168.5 L229.2 163.8 L233.8 159.2 L238.5 153.3 L243.1 149.8 L246.6 145.2 L249.0 141.7" fill="none" stroke="#fff" stroke-width="3.0" stroke-linejoin="round" stroke-linecap="round"/>
<g filter="url(#rag2)">
<path d="M235.3 160.0 L231.0 165.8 L227.4 171.5 L223.8 177.3 L221.7 183.1 L219.5 188.8 L218.1 196.0 L215.2 201.8 L213.0 207.6 L212.3 213.3 L211.6 220.5 L210.1 227.7 L209.4 235.1 L207.2 229.2 L208.7 223.4 L208.0 217.6 L206.5 213.3 L203.6 209.0 L201.5 203.2 L202.9 200.3 L206.5 201.8 L209.4 198.9 L208.7 194.6 L211.6 191.7 L213.7 187.4 L213.0 183.1 L216.6 180.2 L215.9 174.4 L218.8 171.5 L219.5 167.2 L223.8 164.3 L225.3 160.0Z" fill="#fff"/>
</g>
<rect x="213.0" y="185.9" width="2.4" height="2.6" fill="#b3b3b3"/>
<rect x="211.6" y="201.8" width="2.4" height="2.6" fill="#b3b3b3"/>
<rect x="216.6" y="177.3" width="2.4" height="2.6" fill="#b3b3b3"/>
<rect x="209.4" y="210.4" width="2.4" height="2.6" fill="#b3b3b3"/>
<rect x="220.2" y="173.0" width="2.4" height="2.6" fill="#b3b3b3"/>
<path d="M379.7 39.5 L385.3 39.5 L385.3 42.0 L384.0 45.5 L385.0 47.1 L382.5 47.1 L381.0 45.2 L379.7 44.0Z" fill="#fff"/>
</g>
<g stroke="#000" stroke-width="1" stroke-dasharray="1 4" fill="none">
<path d="M231.5 43V388"/>
<path d="M280.5 43V388"/>
<path d="M330.5 43V388"/>
<path d="M379.5 43V388"/>
<path d="M429.5 43V388"/>
<path d="M478.5 43V388"/>
<path d="M181 329.5H529"/>
<path d="M181 271.5H529"/>
<path d="M181 213.5H529"/>
<path d="M181 155.5H529"/>
<path d="M181 97.5H529"/>
</g>
<circle cx="266.3" cy="164.3" r="3.4" fill="#000"/>
<circle cx="281.5" cy="176.3" r="3.4" fill="#000"/>
<circle cx="226.5" cy="177.3" r="3.4" fill="#000"/>
<circle cx="269.5" cy="182.0" r="3.4" fill="#000"/>
<circle cx="251.4" cy="192.2" r="3.4" fill="#000"/>
<circle cx="272.3" cy="201.6" r="3.4" fill="#000"/>
<circle cx="256.0" cy="211.0" r="3.4" fill="#000"/>
<circle cx="242.3" cy="217.7" r="3.4" fill="#000"/>
<circle cx="263.5" cy="225.8" r="3.4" fill="#000"/>
<rect x="181.5" y="39.5" width="347.0" height="348.0" fill="none" stroke="#000" stroke-width="1"/>
<g stroke="#000" stroke-width="1">
<path d="M231.5 387.5v-5.5M231.5 39.5v5.5"/>
<path d="M280.5 387.5v-5.5M280.5 39.5v5.5"/>
<path d="M330.5 387.5v-5.5M330.5 39.5v5.5"/>
<path d="M379.5 387.5v-5.5M379.5 39.5v5.5"/>
<path d="M429.5 387.5v-5.5M429.5 39.5v5.5"/>
<path d="M478.5 387.5v-5.5M478.5 39.5v5.5"/>
<path d="M181.5 329.5h5.5M528.5 329.5h-5.5"/>
<path d="M181.5 271.5h5.5M528.5 271.5h-5.5"/>
<path d="M181.5 213.5h5.5M528.5 213.5h-5.5"/>
<path d="M181.5 155.5h5.5M528.5 155.5h-5.5"/>
<path d="M181.5 97.5h5.5M528.5 97.5h-5.5"/>
</g>
<g font-size="10.5px" fill="#000">
<text x="178.9" y="402.6" text-anchor="middle">−82</text>
<text x="228.5" y="402.6" text-anchor="middle">−81</text>
<text x="278.0" y="402.6" text-anchor="middle">−80</text>
<text x="327.6" y="402.6" text-anchor="middle">−79</text>
<text x="377.2" y="402.6" text-anchor="middle">−78</text>
<text x="426.8" y="402.6" text-anchor="middle">−77</text>
<text x="476.3" y="402.6" text-anchor="middle">−76</text>
<text x="525.9" y="402.6" text-anchor="middle">−75</text>
<text x="177.6" y="391.4" text-anchor="end">28</text>
<text x="177.6" y="333.4" text-anchor="end">29</text>
<text x="177.6" y="275.4" text-anchor="end">30</text>
<text x="177.6" y="217.4" text-anchor="end">31</text>
<text x="177.6" y="159.4" text-anchor="end">32</text>
<text x="177.6" y="101.4" text-anchor="end">33</text>
<text x="177.6" y="43.4" text-anchor="end">34</text>
</g>
<g font-size="12px" letter-spacing="0.2">
<text y="31"><tspan x="205.6">Chl−</tspan><tspan x="233.3">a</tspan><tspan x="244.3">distribution</tspan><tspan x="307.7">in</tspan><tspan x="321.3">SABSOON</tspan><tspan x="388.0">area;</tspan><tspan x="420.7">11−</tspan><tspan x="441.7">May−</tspan><tspan x="474.1">2001</tspan></text>
<text x="316.6" y="417.9">Longitude, W</text>
<text transform="translate(158 215.5) rotate(-90)" text-anchor="middle">Latitude, N</text>
<text y="58" fill="#0000cc"><tspan x="198.5">−</tspan><tspan x="210.1">tower</tspan><tspan x="244.4">locations</tspan></text>
</g>
<circle cx="191.4" cy="54.3" r="3.5" fill="#000"/>
<rect x="222" y="485" width="274" height="10" fill="url(#jet)"/>
<rect x="222" y="485" width="4" height="10" fill="#b3b3b3"/>
<g stroke="#000" stroke-width="1" fill="none"><rect x="222.5" y="485.5" width="273" height="9"/><path d="M240.5 485v10M302.5 485v10M359.5 485v10M436.5 485v10"/></g>
<g font-size="8px" text-anchor="middle" fill="#000" stroke="#000" stroke-width="0.25">
<text x="240.3" y="507">0.1</text>
<text x="302.5" y="507">0.5</text>
<text x="359.3" y="507">1</text>
<text x="436.7" y="507">2</text>
<text x="496.4" y="507">3</text>
</g>
<text x="362.3" y="476.5" font-size="12px" letter-spacing="0.2" text-anchor="middle" style="font-family:'Liberation Serif',serif">Chl−a (log10 scale), mg/m3</text>
</svg>
</body></html>
